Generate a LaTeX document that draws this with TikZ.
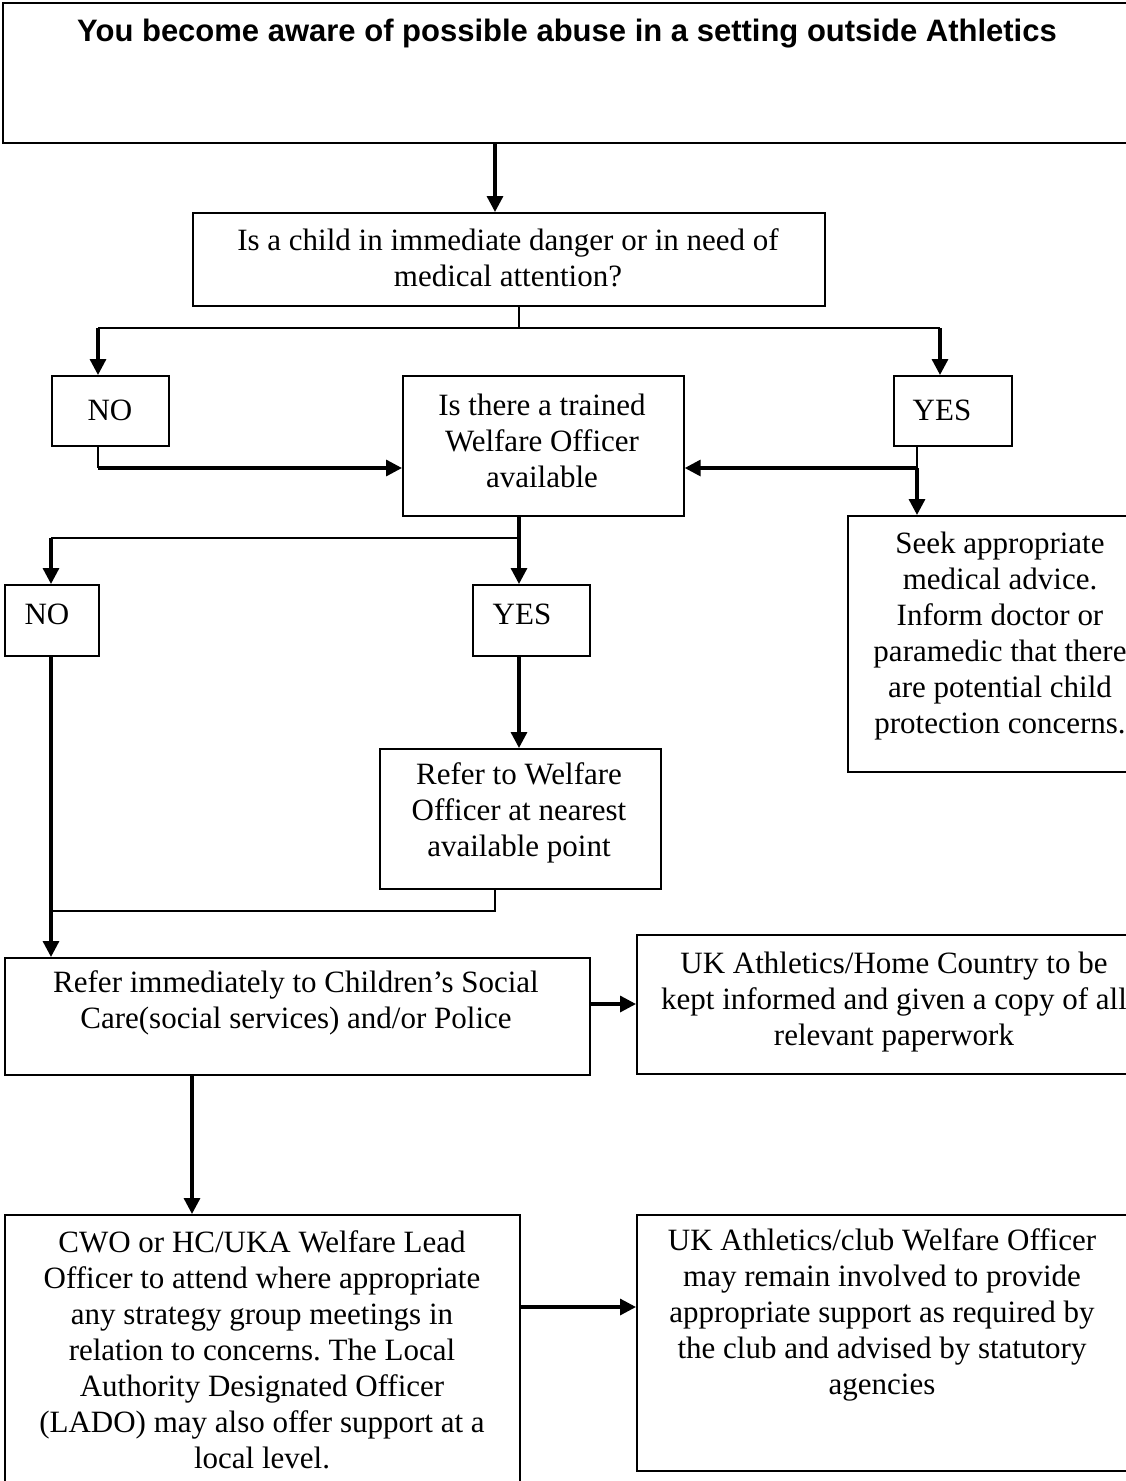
\documentclass[tikz,border=0pt]{standalone}
\usepackage{fontspec}
\setmainfont{Liberation Serif}
\newfontfamily\titlefont{Liberation Sans}
\usetikzlibrary{arrows.meta}
\frenchspacing
\begin{document}
\begin{tikzpicture}[x=1pt,y=-1pt,
  box/.style={draw, line width=1.7pt, inner sep=0pt, anchor=north west},
  txt/.style={align=center, inner sep=0pt, font=\fontsize{31}{36}\selectfont},
  ttl/.style={inner sep=0pt, font=\titlefont\bfseries\fontsize{31}{36}\selectfont},
  thinln/.style={line width=1.5pt},
  thickln/.style={line width=3.3pt},
  arr/.style={thickln, -{Triangle[length=16pt,width=16pt]}}]
\useasboundingbox (0,0) rectangle (1126,1481);

% boxes
\node[box, minimum width=1130pt, minimum height=140pt] (top) at (2,2) {};
\node[box, minimum width=632pt, minimum height=93pt] (q1) at (192,212) {};
\node[box, minimum width=117pt, minimum height=70pt] (no1) at (51,375) {};
\node[box, minimum width=281pt, minimum height=140pt] (q2) at (402,375) {};
\node[box, minimum width=118pt, minimum height=70pt] (yes1) at (893,375) {};
\node[box, minimum width=306pt, minimum height=256pt] (seek) at (847,515) {};
\node[box, minimum width=94pt, minimum height=71pt] (no2) at (4,584) {};
\node[box, minimum width=117pt, minimum height=71pt] (yes2) at (472,584) {};
\node[box, minimum width=281pt, minimum height=140pt] (rwo) at (379,748) {};
\node[box, minimum width=585pt, minimum height=117pt] (refer) at (4,957) {};
\node[box, minimum width=516pt, minimum height=139pt] (uk) at (636,934) {};
\node[box, minimum width=515pt, minimum height=290pt] (cwo) at (4,1214) {};
\node[box, minimum width=494pt, minimum height=256pt] (uktwo) at (636,1214) {};

% texts
\node[ttl] (topt) at (567,34) {You become aware of possible abuse in a setting outside Athletics};
\node[txt] (q1t) at (508,258) {Is a child in immediate danger or in need of\\medical attention?};
\node[txt] (no1t) at (110,410) {NO};
\node[txt] (q2t) at (542,441) {Is there a trained\\Welfare Officer\\available};
\node[txt] (yes1t) at (942,410) {YES};
\node[txt] (seekt) at (1000,636) {Seek appropriate\\medical advice.\\Inform doctor or\\paramedic that there\\are potential child\\protection concerns.};
\node[txt] (no2t) at (47,614) {NO};
\node[txt] (yes2t) at (522,614) {YES};
\node[txt] (rwot) at (519,813) {Refer to Welfare\\Officer at nearest\\available point};
\node[txt] (refert) at (296,1003) {Refer immediately to Children’s Social\\Care(social services) and/or Police};
\node[txt] (ukt) at (894,1002) {UK Athletics/Home Country to be\\kept informed and given a copy of all\\relevant paperwork};
\node[txt] (cwot) at (262,1350) {CWO or HC/UKA Welfare Lead\\Officer to attend where appropriate\\any strategy group meetings in\\relation to concerns. The Local\\Authority Designated Officer\\(LADO) may also offer support at a\\local level.};
\node[txt] (uktwot) at (882,1315) {UK Athletics/club Welfare Officer\\may remain involved to provide\\appropriate support as required by\\the club and advised by statutory\\agencies};

% helper coordinates
\coordinate (t1) at (495,180);
\coordinate (b1) at (519,328);
\coordinate (b1l) at (98,328);
\coordinate (b1r) at (940,328);
\coordinate (n1) at (98,468);
\coordinate (y1) at (917,468);
\coordinate (b2) at (519,538);
\coordinate (b2l) at (51,538);
\coordinate (j) at (495,911);
\coordinate (r1) at (610,1004);
\coordinate (c1) at (192,1150);
\coordinate (c2) at (580,1307);

% connectors
\draw[arr] (t1 |- top.south) -- (t1 |- q1.north);
\draw[thinln] (b1 |- q1.south) -- (b1);
\draw[thinln] (b1l) -- (b1r);
\draw[arr] (b1l) -- (b1l |- no1.north);
\draw[arr] (b1r) -- (b1r |- yes1.north);
\draw[thinln] (n1 |- no1.south) -- (n1);
\draw[arr] (n1) -- (n1 -| q2.west);
\draw[thinln] (y1 |- yes1.south) -- (y1);
\draw[arr] (y1) -- (y1 -| q2.east);
\draw[arr] (y1) -- (y1 |- seek.north);
\draw[arr] (b2 |- q2.south) -- (b2 |- yes2.north);
\draw[thinln] (b2) -- (b2l);
\draw[arr] (b2l) -- (b2l |- no2.north);
\draw[arr] (b2 |- yes2.south) -- (b2 |- rwo.north);
\draw[arr] (b2l |- no2.south) -- (b2l |- refer.north);
\draw[thinln] (j |- rwo.south) -- (j) -- (j -| b2l);
\draw[arr] (r1 -| refer.east) -- (r1 -| uk.west);
\draw[arr] (c1 |- refer.south) -- (c1 |- cwo.north);
\draw[arr] (c2 -| cwo.east) -- (c2 -| uktwo.west);
\end{tikzpicture}
\end{document}
